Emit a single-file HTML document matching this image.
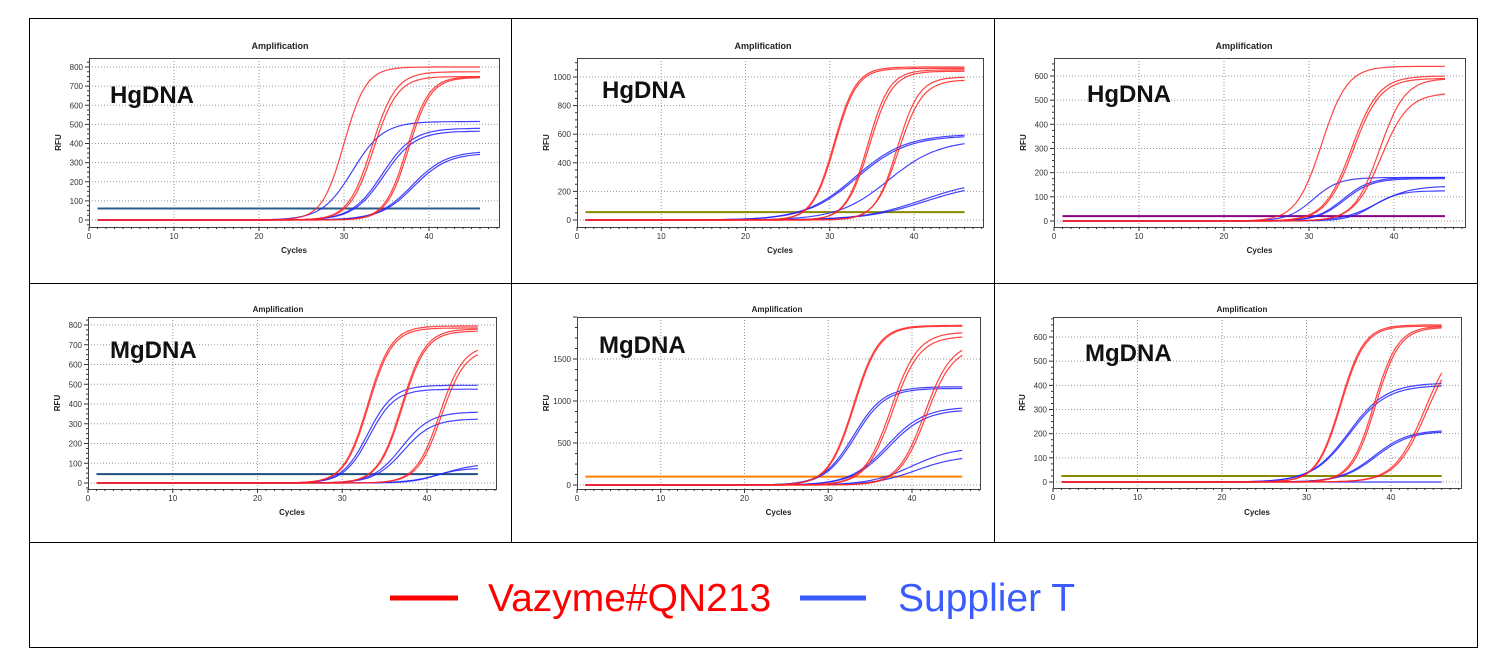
<!DOCTYPE html>
<html><head><meta charset="utf-8">
<style>
html,body{margin:0;padding:0;background:#fff;}
svg{display:block;font-family:"Liberation Sans",Arial,sans-serif;}
</style></head>
<body>
<svg id="root" width="1499" height="669" viewBox="0 0 1499 669" xmlns="http://www.w3.org/2000/svg">
  <g stroke="#000" stroke-width="1" fill="none">
    <rect x="29.5" y="18.5" width="1448" height="629"/>
    <line x1="29" y1="283.5" x2="1477" y2="283.5"/>
    <line x1="29" y1="542.5" x2="1477" y2="542.5"/>
    <line x1="511.5" y1="18" x2="511.5" y2="542"/>
    <line x1="994.5" y1="18" x2="994.5" y2="542"/>
  </g>
  <g id="panels"></g>
  <g>
    <line x1="390" y1="598" x2="458" y2="598" stroke="#ff0000" stroke-width="5"/>
    <text x="488" y="611" font-size="39" fill="#ff0000">Vazyme#QN213</text>
    <line x1="800" y1="598" x2="866" y2="598" stroke="#3a5cff" stroke-width="5"/>
    <text x="898" y="611" font-size="39" fill="#3a5cff">Supplier T</text>
  </g>
</svg>
<script>
// ---- data: per panel, curves as [midpoint cycle, plateau RFU, steepness] ----
const panelLabels = ["HgDNA","HgDNA","HgDNA","MgDNA","MgDNA","MgDNA"];
const yTickValues = [[0,100,200,300,400,500,600,700,800],[0,200,400,600,800,1000],[0,100,200,300,400,500,600],[0,100,200,300,400,500,600,700,800],[0,500,1000,1500],[0,100,200,300,400,500,600]];
const xTickValues = [0,10,20,30,40];
const thresholds = [60,55,20,45,100,25];
const thresholdColors = ["#2a5d8c","#8a8a00","#8b008b","#1f4f80","#ff8000","#8a8a00"];
const redCurves = [
 [[30,800,1.3],[33.3,775,1.4],[33.5,750,1.4],[37.4,750,1.3],[37.6,745,1.3]],
 [[30.5,1070,1.3],[30.6,1060,1.3],[34.5,1050,1.3],[34.7,1040,1.35],[38,1000,1.3],[38.2,980,1.4]],
 [[31.5,640,1.5],[35,600,1.6],[35.2,590,1.6],[38.3,590,1.5],[38.5,530,1.6]],
 [[33,795,1.4],[33.1,785,1.4],[37,780,1.4],[37.1,770,1.4],[41.5,700,1.4],[41.7,680,1.4]],
 [[33,1900,1.5],[33.1,1890,1.5],[37.5,1820,1.6],[37.7,1770,1.6],[41.5,1700,1.6],[41.7,1650,1.6]],
 [[34,650,1.4],[34.1,645,1.4],[38,645,1.4],[38.2,640,1.4],[44,600,1.8],[44.2,580,1.8]]
];
const blueCurves = [
 [[31,515,1.8],[34.5,480,1.8],[34.7,465,1.8],[38,360,2.0],[38.2,350,2.0]],
 [[33,600,3.0],[33.2,590,3.0],[37,560,3.0],[41,280,3.5],[41.3,260,3.5]],
 [[30.5,180,1.5],[34,180,1.6],[34.2,175,1.6],[38,145,2.0],[37.5,125,1.5]],
 [[33,495,1.5],[33.2,475,1.5],[37,360,1.7],[37.2,325,1.7],[42,100,2.0],[41,75,1.5]],
 [[33,1170,1.8],[33.2,1150,1.8],[37,930,2.2],[37.2,900,2.2],[40,450,2.5],[40.5,350,2.5]],
 [[35,410,2.2],[35.1,400,2.2],[38,215,2.0],[38.2,210,2.0],[40,0,2.0]]
];
// ---- layout (pixel geometry of each plot) ----
const geo = [
 {L:89,R:499,T:58,B:227,x0:89,x40:429,y0:220,yv:800,ypx:67,title:46,titleX:280,lab:[110,103],cyc:250},
 {L:577,R:983,T:58,B:227,x0:577,x40:914,y0:220,yv:1000,ypx:77,title:46,titleX:763,lab:[602,98],cyc:250},
 {L:1054,R:1465,T:58,B:227,x0:1054,x40:1394,y0:221,yv:600,ypx:76,title:46,titleX:1244,lab:[1087,102],cyc:250},
 {L:88,R:496,T:317,B:489,x0:88,x40:427,y0:483,yv:800,ypx:325,title:309,titleX:278,lab:[110,358],cyc:512},
 {L:577,R:980,T:317,B:489,x0:577,x40:912,y0:485,yv:1500,ypx:359,title:309,titleX:777,lab:[599,353],cyc:512},
 {L:1053,R:1461,T:317,B:488,x0:1053,x40:1391,y0:482,yv:600,ypx:337,title:309,titleX:1242,lab:[1085,361],cyc:512}
];
const NS="http://www.w3.org/2000/svg";
function mk(tag,attrs,parent){const e=document.createElementNS(NS,tag);for(const k in attrs)e.setAttribute(k,attrs[k]);if(parent)parent.appendChild(e);return e;}
const panels=document.getElementById('panels');
geo.forEach((g,i)=>{
  const sx=c=>g.x0+c*(g.x40-g.x0)/40;
  const sy=v=>g.y0-v*(g.y0-g.ypx)/g.yv;
  const p=mk('g',{},panels);
  
  
  const t=mk('text',{x:g.titleX,y:g.title+3,'font-size':i<3?9:8,'font-weight':'bold','text-anchor':'middle',fill:'#222'},p);
  
  
  t.textContent='Amplification';
  const grid=mk('g',{stroke:'#999','stroke-width':1,'stroke-dasharray':'1,2'},p);
  
  
  xTickValues.forEach(c=>{if(c>0)mk('line',{x1:sx(c),x2:sx(c),y1:g.T,y2:g.B},grid);});
  yTickValues[i].forEach(v=>mk('line',{x1:g.L,x2:g.R,y1:sy(v),y2:sy(v)},grid));
  const box=mk('rect',{x:g.L+0.5,y:g.T+0.5,width:g.R-g.L,height:g.B-g.T,fill:'none',stroke:'#444','stroke-width':1},p);
  
  
  const ax=mk('g',{stroke:'#333','stroke-width':1},p);
  
  
  for(let c=0;c<=48;c++){const X=sx(c);if(X>g.R)break;mk('line',{x1:X,x2:X,y1:g.B,y2:g.B+(c%10===0?4:2)},ax);}
  const yt=yTickValues[i];const step=yt[1]-yt[0];
  for(let v=yt[0]-step;v<=yt[yt.length-1]+step;v+=step/4){const Y=sy(v);if(Y<g.T||Y>g.B)continue;mk('line',{x1:g.L-((v%step===0)?4:2),x2:g.L,y1:Y,y2:Y},ax);}
  const lbl=mk('g',{'font-size':8,fill:'#333'},p);
  
  
  xTickValues.forEach(c=>{const e=mk('text',{x:sx(c),y:g.B+12,'text-anchor':'middle'},lbl);e.textContent=c;});
  yt.forEach(v=>{const e=mk('text',{x:g.L-6,y:sy(v)+3,'text-anchor':'end'},lbl);e.textContent=v;});
  const xt=mk('text',{x:(g.L+g.R)/2,y:g.cyc+3,'font-size':8,'font-weight':'bold','text-anchor':'middle',fill:'#222'},p);
  
  
  xt.textContent='Cycles';
  const yl=mk('text',{x:0,y:0,'font-size':8,'font-weight':'bold','text-anchor':'middle',fill:'#222',transform:`translate(${g.L-28},${(g.T+g.B)/2}) rotate(-90)`},p);
  
  
  yl.textContent='RFU';
  const pl=mk('text',{x:g.lab[0],y:g.lab[1],'font-size':24,'font-weight':'bold',fill:'#111'},p);
  
  
  pl.textContent=panelLabels[i];
  const th=mk('line',{x1:sx(1),x2:sx(46),y1:sy(thresholds[i]),y2:sy(thresholds[i]),stroke:thresholdColors[i],'stroke-width':2},p);
  
  
  function curve(arr,color,name){
    arr.forEach((c,j)=>{
      let d='';
      for(let x=1;x<=46;x+=0.5){
        const v=c[1]/(1+Math.exp(-(x-c[0])/c[2]));
        d+=(d?'L':'M')+sx(x).toFixed(1)+','+sy(v).toFixed(1);
      }
      const e=mk('path',{d:d,fill:'none',stroke:color,'stroke-width':1.2,'stroke-opacity':0.85},p);
      
      
    });
  }
  curve(blueCurves[i],'#2222ff','supplier-t');
  curve(redCurves[i],'#ff2222','vazyme');
});
</script>
</body></html>
